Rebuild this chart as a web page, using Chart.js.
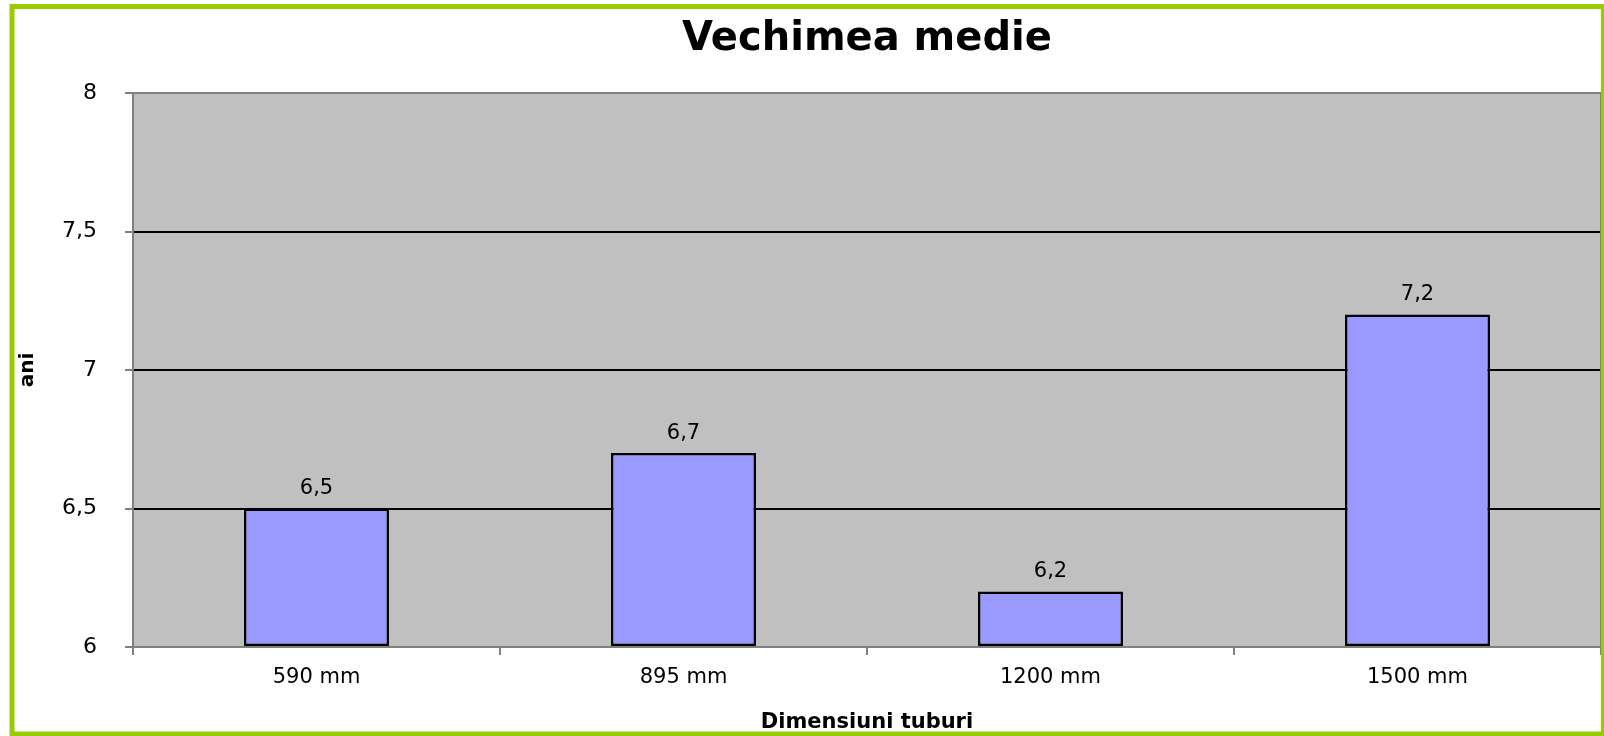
<!DOCTYPE html>
<html>
<head>
<meta charset="utf-8">
<style>
  html, body { margin: 0; padding: 0; background: #ffffff; }
  #wrap { width: 1604px; height: 736px; position: relative; }
</style>
<script src="https://cdn.jsdelivr.net/npm/chart.js@4/dist/chart.umd.min.js"></script>
</head>
<body>
<div id="wrap"><canvas id="c" width="1604" height="736"></canvas></div>
<script>
const categories = ["590 mm", "895 mm", "1200 mm", "1500 mm"];
const values = [6.5, 6.7, 6.2, 7.2];
const yTicks = [6, 6.5, 7, 7.5, 8];
const chartTitle = "Vechimea medie";
const xTitle = "Dimensiuni tuburi";
const yTitle = "ani";

const fmt = v => String(v).replace('.', ',');

const framePlugin = {
  id: 'frame',
  beforeDraw(chart) {
    const { ctx, chartArea: a } = chart;
    ctx.save();
    ctx.fillStyle = '#c0c0c0';
    ctx.fillRect(a.left, a.top, a.right - a.left, a.bottom - a.top);
    ctx.restore();
  },
  afterDatasetsDraw(chart) {
    const { ctx, chartArea: a } = chart;
    ctx.save();
    ctx.strokeStyle = '#808080';
    ctx.lineWidth = 2;
    ctx.strokeRect(a.left, a.top, a.right - a.left, a.bottom - a.top);
    const meta = chart.getDatasetMeta(0);
    ctx.fillStyle = '#000000';
    ctx.font = '21px "DejaVu Sans"';
    ctx.textAlign = 'center';
    ctx.textBaseline = 'middle';
    meta.data.forEach((bar, i) => {
      ctx.fillText(fmt(values[i]), bar.x, bar.y - 20);
    });
    ctx.restore();
  },
  afterDraw(chart) {
    const { ctx } = chart;
    ctx.save();
    ctx.strokeStyle = '#99cc00';
    ctx.lineWidth = 5;
    ctx.beginPath();
    ctx.moveTo(12, 736);
    ctx.lineTo(12, 6.5);
    ctx.lineTo(1604, 6.5);
    ctx.stroke();
    ctx.beginPath();
    ctx.moveTo(12, 734);
    ctx.lineTo(1604, 734);
    ctx.stroke();
    ctx.beginPath();
    ctx.lineWidth = 3;
    ctx.moveTo(1602.5, 6);
    ctx.lineTo(1602.5, 736);
    ctx.stroke();
    ctx.restore();
  }
};

new Chart(document.getElementById('c'), {
  type: 'bar',
  data: {
    labels: categories,
    datasets: [{
      data: values,
      backgroundColor: '#9999ff',
      borderColor: '#000000',
      borderWidth: 2.5,
      borderSkipped: false,
      barPercentage: 0.395,
      categoryPercentage: 1.0,
      base: 6
    }]
  },
  options: {
    responsive: false,
    animation: false,
    layout: { padding: { left: 0, right: 3, top: 0, bottom: 0 } },
    plugins: {
      legend: { display: false },
      tooltip: { enabled: false },
      title: {
        display: true,
        text: chartTitle,
        fullSize: false,
        color: '#000000',
        font: { family: 'DejaVu Sans', size: 40, weight: 'bold', lineHeight: 1.2 },
        padding: { top: 16, bottom: 29 }
      }
    },
    scales: {
      x: {
        offset: true,
        grid: {
          display: true,
          drawOnChartArea: false,
          drawTicks: true,
          tickLength: 8,
          color: '#808080',
          lineWidth: 2,
          offset: true
        },
        border: { display: true, color: '#808080', width: 2 },
        ticks: {
          color: '#000000',
          font: { family: 'DejaVu Sans', size: 21 },
          padding: 10,
          maxRotation: 0
        },
        title: {
          display: true,
          text: xTitle,
          color: '#000000',
          font: { family: 'DejaVu Sans', size: 21, weight: 'bold', lineHeight: 1.2 },
          padding: { top: 0, bottom: 1 }
        },
        afterFit(scale) { scale.height = 89; }
      },
      y: {
        min: 6,
        max: 8,
        afterBuildTicks(scale) { scale.ticks = yTicks.map(v => ({ value: v })); },
        grid: {
          drawTicks: true,
          tickLength: 8,
          lineWidth: 2,
          color: ctx => (ctx.tick && (ctx.tick.value === 6 || ctx.tick.value === 8)) ? '#808080' : '#000000',
          tickColor: '#808080'
        },
        border: { display: true, color: '#808080', width: 2 },
        ticks: {
          color: '#000000',
          font: { family: 'DejaVu Sans', size: 22 },
          padding: 28,
          callback: v => fmt(v)
        },
        title: {
          display: true,
          text: yTitle,
          color: '#000000',
          font: { family: 'DejaVu Sans', size: 20, weight: 'bold', lineHeight: 1.2 },
          padding: { top: 16, bottom: 0 }
        },
        afterFit(scale) { scale.width = 133; }
      }
    }
  },
  plugins: [framePlugin]
});
</script>
</body>
</html>
